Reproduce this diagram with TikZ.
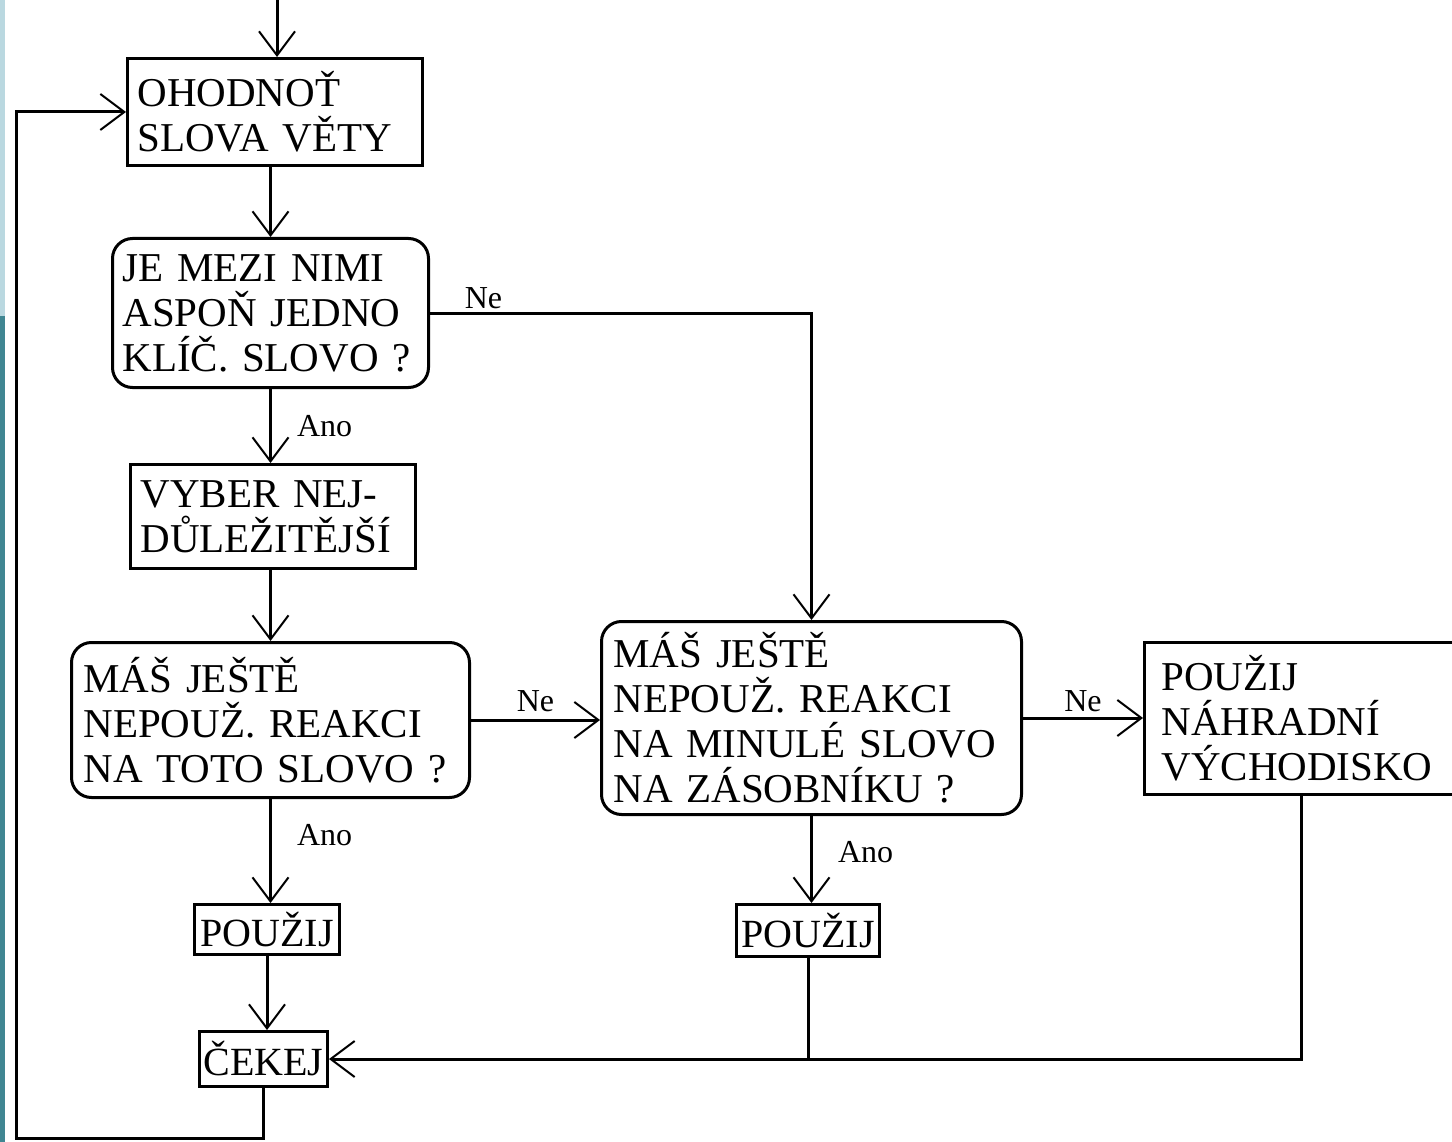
\documentclass[tikz,border=0pt]{standalone}
\usepackage{fontspec}
\setmainfont{Liberation Serif}
\usetikzlibrary{arrows.meta, positioning, calc}
\definecolor{pruhsvetly}{RGB}{186,216,224}
\definecolor{pruhtmavy}{RGB}{64,134,146}

\begin{document}
\begin{tikzpicture}[x=1pt, y=-1pt,
    sip/.style={-{Straight Barb[length=24pt, width=36pt, line width=2pt]}, line width=3pt},
    spoj/.style={line width=3pt},
    blok/.style={draw, line width=3pt, anchor=north west, inner xsep=10pt, inner ysep=2pt,
        align=left, font=\fontsize{41}{45}\selectfont},
    otazka/.style={blok, rounded corners=20pt},
    maly/.style={draw, line width=3pt, anchor=north west, inner xsep=2pt, inner ysep=2pt,
        font=\fontsize{40}{45}\selectfont},
    stitek/.style={font=\fontsize{32}{36}\selectfont, inner sep=3pt}]
    \useasboundingbox (0,0) rectangle (1452,1142);
    \fill[pruhsvetly] (0,0) rectangle (5,316);
    \fill[pruhtmavy] (0,316) rectangle (5,1142);

    \node[blok, minimum width=295, minimum height=107, text width=275] (ohodnot) at (126,57) {OHODNOŤ\\SLOVA VĚTY};
    \node[otazka, minimum width=316, minimum height=149, text width=296] (mezi) at (111,237) {JE MEZI NIMI\\ASPOŇ JEDNO\\KLÍČ. SLOVO ?};
    \node[blok, minimum width=285, minimum height=104, text width=265] (vyber) at (129,463) {VYBER NEJ-\\DŮLEŽITĚJŠÍ};
    \node[otazka, minimum width=398, minimum height=155, text width=374, inner xsep=12pt] (reakce) at (70,641) {MÁŠ JEŠTĚ\\NEPOUŽ. REAKCI\\NA TOTO SLOVO ?};
    \node[otazka, minimum width=420, minimum height=193, text width=396, inner xsep=12pt] (minule) at (600,620) {MÁŠ JEŠTĚ\\NEPOUŽ. REAKCI\\NA MINULÉ SLOVO\\NA ZÁSOBNÍKU ?};
    \node[blok, minimum width=314, minimum height=152, text width=280, inner xsep=17pt] (nahradni) at (1143,641) {POUŽIJ\\NÁHRADNÍ\\VÝCHODISKO};
    \node[maly, minimum width=145, minimum height=50] (pouzij1) at (193,903) {POUŽIJ};
    \node[maly, minimum width=143, minimum height=52] (pouzij2) at (735,903) {POUŽIJ};
    \node[maly, minimum width=128, minimum height=55] (cekej) at (198,1030) {ČEKEJ};

    \coordinate (vstup) at (277,0);
    \coordinate (roh) at (16,1138);

    \draw[sip] (vstup) -- (vstup |- ohodnot.north);
    \draw[sip] (mezi.north |- ohodnot.south) -- (mezi.north);
    \draw[sip] (mezi.south) -- node[stitek, right=22pt] {Ano} (mezi.south |- vyber.north);
    \draw[sip] (reakce.north |- vyber.south) -- (reakce.north);
    \draw[sip] (mezi.east) -| node[stitek, above, pos=0.07] {Ne} (minule.north);
    \draw[sip] (reakce.east) -- node[stitek, above=4pt] {Ne} (reakce.east -| minule.west);
    \draw[sip] (minule.east) -- node[stitek, above=2pt] {Ne} (minule.east -| nahradni.west);
    \draw[sip] (reakce.south) -- node[stitek, right=22pt, pos=0.35] {Ano} (reakce.south |- pouzij1.north);
    \draw[sip] (minule.south) -- node[stitek, right=22pt, pos=0.42] {Ano} (minule.south |- pouzij2.north);
    \draw[sip] (pouzij1.south) -- (pouzij1.south |- cekej.north);
    \draw[spoj] (pouzij2.south) -- (pouzij2.south |- cekej.east);
    \draw[sip] (nahradni.south) |- (cekej.east);
    \draw[sip] (cekej.south) |- (roh) |- (ohodnot.west);
\end{tikzpicture}
\end{document}
